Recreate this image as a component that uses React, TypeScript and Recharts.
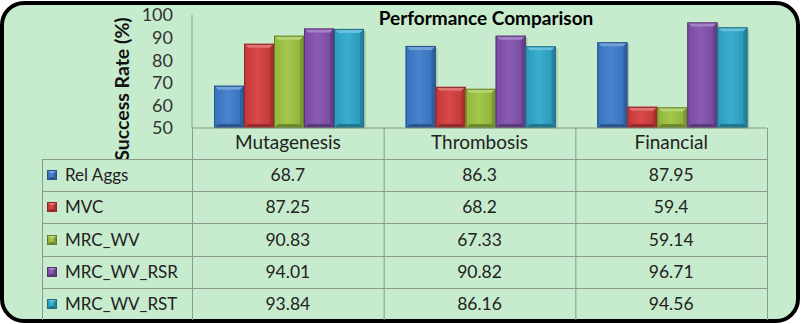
import React from "react";
import { BarChart, Bar, XAxis, YAxis } from "recharts";

// Datasets on the category axis
const categories = ["Mutagenesis", "Thrombosis", "Financial"];

// Methods compared, with their success rates (%) per dataset
const methods = ["Rel Aggs", "MVC", "MRC_WV", "MRC_WV_RSR", "MRC_WV_RST"];
const relAggs = [68.7, 86.3, 87.95];
const mvc = [87.25, 68.2, 59.4];
const mrcWv = [90.83, 67.33, 59.14];
const mrcWvRsr = [94.01, 90.82, 96.71];
const mrcWvRst = [93.84, 86.16, 94.56];

const yTicks = [50, 60, 70, 80, 90, 100];

const seriesValues = [relAggs, mvc, mrcWv, mrcWvRsr, mrcWvRst];
const seriesKeys = ["s0", "s1", "s2", "s3", "s4"];
const seriesColors = ["#3d7ccc", "#d63d3d", "#9dc53f", "#8252ae", "#2ea8cb"];

const chartData = categories.map((c, i) => {
  const row: Record<string, string | number> = { category: c };
  seriesValues.forEach((vals, s) => {
    row[seriesKeys[s]] = vals[i];
  });
  return row;
});

const FONT = "Lato, 'Open Sans', sans-serif";
const W = 801;
const H = 324;
const PLOT_LEFT = 192;
const PLOT_RIGHT = 767;
const PLOT_TOP = 15;
const PLOT_BOTTOM = 128;
const TABLE_LEFT = 42;
const HEADER_BOTTOM = 159;
const ROW_H = 32.2;
const GRID = "#8c9a8c";

function mix(hex: string, target: number, t: number) {
  const n = parseInt(hex.slice(1), 16);
  const ch = [(n >> 16) & 255, (n >> 8) & 255, n & 255].map((v) =>
    Math.round(v + (target - v) * t)
  );
  return "#" + ch.map((v) => v.toString(16).padStart(2, "0")).join("");
}
const lighten = (c: string, t: number) => mix(c, 255, t);
const darken = (c: string, t: number) => mix(c, 0, t);

// Bevelled block used for bars and legend keys
function Bevel({ x, y, w, h, color, b, id }: { x: number; y: number; w: number; h: number; color: string; b: number; id: string }) {
  if (w <= 0 || h <= 0) return null;
  return (
    <g>
      <defs>
        <linearGradient id={id} x1="0" y1="0" x2="1" y2="0">
          <stop offset="0" stopColor={darken(color, 0.08)} />
          <stop offset="0.45" stopColor={lighten(color, 0.06)} />
          <stop offset="1" stopColor={darken(color, 0.12)} />
        </linearGradient>
      </defs>
      <rect x={x} y={y} width={w} height={h} fill={`url(#${id})`} />
      <polygon
        points={`${x},${y} ${x + w},${y} ${x + w - b},${y + b} ${x + b},${y + b}`}
        fill={lighten(color, 0.28)}
      />
      <polygon
        points={`${x},${y} ${x + b},${y + b} ${x + b},${y + h - b} ${x},${y + h}`}
        fill={darken(color, 0.05)}
      />
      <polygon
        points={`${x + w},${y} ${x + w - b},${y + b} ${x + w - b},${y + h - b} ${x + w},${y + h}`}
        fill={darken(color, 0.22)}
      />
      <polygon
        points={`${x},${y + h} ${x + b},${y + h - b} ${x + w - b},${y + h - b} ${x + w},${y + h}`}
        fill={darken(color, 0.3)}
      />
      <rect x={x + 0.5} y={y + 0.5} width={w - 1} height={h - 1} fill="none" stroke={darken(color, 0.35)} strokeWidth={1} />
    </g>
  );
}

const makeBarShape = (s: number) => (props: any) => {
  const { x, y, width, height, index } = props;
  return (
    <g>
      <rect x={x + 2} y={y + 2} width={width} height={height - 1} fill="#000" opacity={0.12} />
      <Bevel x={x} y={y} w={width} h={height} color={seriesColors[s]} b={4} id={`g${s}_${index}`} />
    </g>
  );
};

const YTick = (props: any) => {
  const { x, y, payload } = props;
  return (
    <text x={x} y={y} dy="0.36em" textAnchor="end" fontFamily={FONT} fontSize={18} fill="#333">
      {payload.value}
    </text>
  );
};

const XTick = (props: any) => {
  const { x, y, payload } = props;
  return (
    <text x={x} y={y + 21} textAnchor="middle" fontFamily={FONT} fontSize={19} fill="#222">
      {payload.value}
    </text>
  );
};

export default function App() {
  const colW = (PLOT_RIGHT - PLOT_LEFT) / categories.length;
  const tableBottom = HEADER_BOTTOM + ROW_H * methods.length;
  return (
    <div style={{ position: "absolute", left: 0, top: 0, width: W, height: H, background: "#fff", overflow: "hidden" }}>
      <div
        style={{
          position: "absolute",
          left: 0,
          top: 1,
          width: 800,
          height: 322,
          boxSizing: "border-box",
          border: "4.5px solid #000",
          borderRadius: 24,
          background: "#c7ebcd",
        }}
      />
      <div style={{ position: "absolute", left: 0, top: 0 }}>
        <BarChart
          width={W}
          height={H}
          data={chartData}
          margin={{ top: PLOT_TOP, right: W - PLOT_RIGHT, left: PLOT_LEFT - 60, bottom: H - PLOT_BOTTOM - 31 }}
          barCategoryGap="11.5%"
          barGap={0}
        >
          <XAxis
            dataKey="category"
            height={31}
            axisLine={{ stroke: GRID }}
            tickLine={false}
            tickSize={0}
            tickMargin={0}
            tick={<XTick />}
            interval={0}
          />
          <YAxis
            width={60}
            domain={[50, 100]}
            ticks={yTicks}
            interval={0}
            axisLine={{ stroke: GRID }}
            tickLine={false}
            tickSize={0}
            tickMargin={19}
            tick={<YTick />}
          />
          {seriesKeys.map((k, s) => (
            <Bar key={k} dataKey={k} name={methods[s]} isAnimationActive={false} shape={makeBarShape(s)} />
          ))}
        </BarChart>
      </div>
      <svg width={W} height={H} style={{ position: "absolute", left: 0, top: 0, pointerEvents: "none" }}>
        <text x={486} y={25} textAnchor="middle" fontFamily={FONT} fontSize={19} fontWeight={700} fill="#000">
          Performance Comparison
        </text>
        <text
          transform={`translate(129, 89) rotate(-90)`}
          textAnchor="middle"
          fontFamily={FONT}
          fontSize={19.5}
          fontWeight={700}
          fill="#111"
        >
          Success Rate (%)
        </text>
        {/* data table grid */}
        <line x1={PLOT_LEFT + 0.5} y1={PLOT_BOTTOM} x2={PLOT_LEFT + 0.5} y2={tableBottom} stroke={GRID} />
        {categories.map((_, i) => (
          <line
            key={`v${i}`}
            x1={PLOT_LEFT + colW * (i + 1) + 0.5}
            y1={PLOT_BOTTOM}
            x2={PLOT_LEFT + colW * (i + 1) + 0.5}
            y2={tableBottom}
            stroke={GRID}
          />
        ))}
        <line x1={TABLE_LEFT + 0.5} y1={HEADER_BOTTOM} x2={TABLE_LEFT + 0.5} y2={tableBottom} stroke={GRID} />
        {methods.map((_, r) => (
          <line
            key={`h${r}`}
            x1={TABLE_LEFT}
            y1={Math.round(HEADER_BOTTOM + ROW_H * r) + 0.5}
            x2={PLOT_RIGHT + 1}
            y2={Math.round(HEADER_BOTTOM + ROW_H * r) + 0.5}
            stroke={GRID}
          />
        ))}
        {methods.map((m, r) => {
          const cy = HEADER_BOTTOM + ROW_H * r + ROW_H / 2;
          return (
            <g key={m}>
              <Bevel x={47} y={Math.round(cy - 5)} w={10} h={10} color={seriesColors[r]} b={3} id={`k${r}`} />
              <text x={65} y={cy + 6} fontFamily={FONT} fontSize={17} fill="#222">
                {m}
              </text>
              {seriesValues[r].map((v, i) => (
                <text
                  key={i}
                  x={PLOT_LEFT + colW * (i + 0.5)}
                  y={cy + 6}
                  textAnchor="middle"
                  fontFamily={FONT}
                  fontSize={17.5}
                  fill="#222"
                >
                  {v}
                </text>
              ))}
            </g>
          );
        })}
      </svg>
    </div>
  );
}
